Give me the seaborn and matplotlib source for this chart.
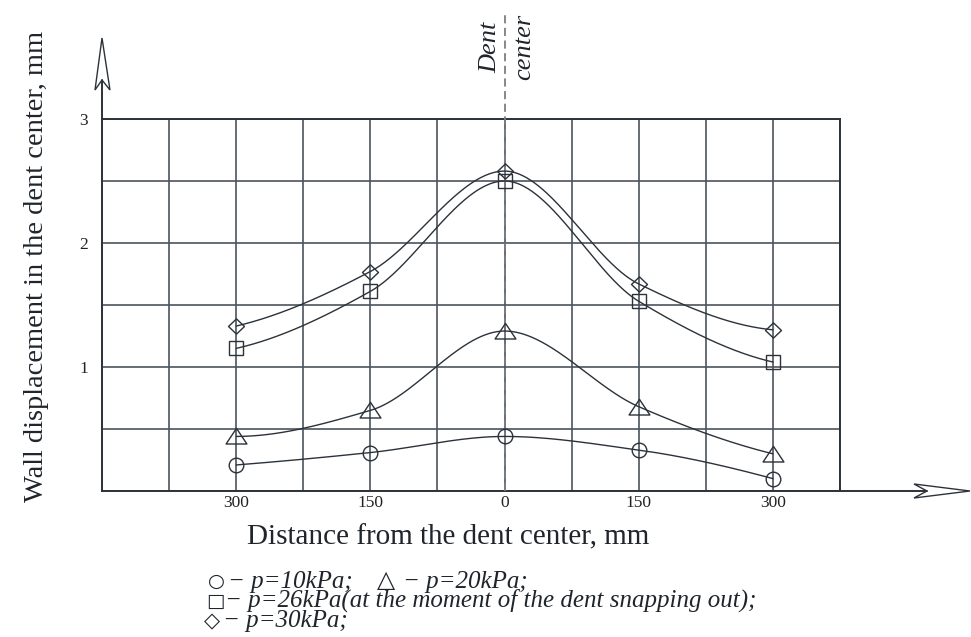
import numpy as np
import pandas as pd
import matplotlib
matplotlib.use("Agg")
import matplotlib.pyplot as plt
from matplotlib.path import Path
from matplotlib.patches import Polygon
from matplotlib.lines import Line2D
import seaborn as sns

# ---------------- data ----------------
distance = [-300, -150, 0, 150, 300]
tick_labels = ["300", "150", "0", "150", "300"]
p10 = [0.21, 0.31, 0.44, 0.33, 0.10]
p20 = [0.44, 0.65, 1.29, 0.68, 0.30]
p26 = [1.15, 1.61, 2.50, 1.53, 1.04]
p30 = [1.33, 1.77, 2.58, 1.67, 1.30]
series_names = ["p=10kPa", "p=20kPa", "p=26kPa", "p=30kPa"]
y_ticks = [1, 2, 3]

W, H = 971, 637
sns.set_theme(style="white")
plt.rcParams["font.family"] = ["Liberation Serif", "DejaVu Sans"]

DARK = "#2b323a"
GRID = "#4d545c"
TXT = "#1f252b"


def pchip(x, y, xs):
    x = np.asarray(x, float); y = np.asarray(y, float)
    h = np.diff(x); d = np.diff(y) / h
    n = len(x); m = np.zeros(n)
    for k in range(1, n - 1):
        if d[k - 1] * d[k] > 0:
            w1 = 2 * h[k] + h[k - 1]; w2 = h[k] + 2 * h[k - 1]
            m[k] = (w1 + w2) / (w1 / d[k - 1] + w2 / d[k])
    def end(h0, h1, d0, d1):
        v = ((2 * h0 + h1) * d0 - h0 * d1) / (h0 + h1)
        if np.sign(v) != np.sign(d0):
            v = 0.0
        elif np.sign(d0) != np.sign(d1) and abs(v) > abs(3 * d0):
            v = 3 * d0
        return v
    m[0] = end(h[0], h[1], d[0], d[1])
    m[-1] = end(h[-1], h[-2], d[-1], d[-2])
    idx = np.clip(np.searchsorted(x, xs) - 1, 0, n - 2)
    t = (xs - x[idx]) / h[idx]
    h00 = 2 * t**3 - 3 * t**2 + 1; h10 = t**3 - 2 * t**2 + t
    h01 = -2 * t**3 + 3 * t**2; h11 = t**3 - t**2
    return h00 * y[idx] + h10 * h[idx] * m[idx] + h01 * y[idx + 1] + h11 * h[idx] * m[idx + 1]


fig = plt.figure(figsize=(W / 100, H / 100), dpi=100)
fig.patch.set_facecolor("white")
ax_l, ax_r, ax_t, ax_b = 102, 840, 119, 491
ax = fig.add_axes([ax_l / W, 1 - ax_b / H, (ax_r - ax_l) / W, (ax_b - ax_t) / H])
ax.set_facecolor("white")

# smooth curves via seaborn
xs = np.linspace(distance[0], distance[-1], 400)
rows = []
for name, vals in zip(series_names, [p10, p20, p26, p30]):
    ys = pchip(distance, vals, xs)
    rows.append(pd.DataFrame({"x": xs, "y": ys, "s": name}))
curves = pd.concat(rows, ignore_index=True)
sns.lineplot(data=curves, x="x", y="y", hue="s", palette=[DARK] * 4,
             linewidth=1.0, legend=False, ax=ax, sort=False, zorder=4)

# markers
tri = Path([(-1.0, -0.72), (1.0, -0.72), (0.0, 0.78), (-1.0, -0.72)],
           [Path.MOVETO, Path.LINETO, Path.LINETO, Path.CLOSEPOLY])
dia = Path([(0, 1), (1.05, 0), (0, -1), (-1.05, 0), (0, 1)],
           [Path.MOVETO, Path.LINETO, Path.LINETO, Path.LINETO, Path.CLOSEPOLY])
marker_specs = [("o", 10.5), (tri, 15), ("s", 9.5), (dia, 11.5)]
for vals, (mk, ms) in zip([p10, p20, p26, p30], marker_specs):
    ax.plot(distance, vals, linestyle="none", marker=mk, markersize=ms,
            markerfacecolor="none", markeredgecolor=DARK, markeredgewidth=1.0,
            zorder=5, clip_on=False)

ax.set_xlim(-450, 375)
ax.set_ylim(0, 3)
grid_x = np.arange(-450, 376, 75)
grid_y = np.arange(0, 3.01, 0.5)
ax.set_xticks(grid_x)
ax.set_xticklabels([tick_labels[distance.index(v)] if v in distance else "" for v in grid_x])
ax.set_yticks(grid_y)
ax.set_yticklabels([str(int(v)) if v in y_ticks else "" for v in grid_y])
ax.tick_params(axis="both", length=0, labelsize=12.5, colors="#222222")
ax.tick_params(axis="x", pad=3)
ax.tick_params(axis="y", pad=10)
ax.grid(True, color=GRID, linewidth=1.2)
for s in ax.spines.values():
    s.set_color(DARK)
    s.set_linewidth(1.4)
ax.set_xlabel(""); ax.set_ylabel("")

# dent center dashed line
ax.axvline(0, ymin=0, ymax=(ax_b - 15) / (ax_b - ax_t), color="#7a7f85",
           linewidth=1.3, dashes=(4.5, 2.5), clip_on=False, zorder=3)


def fp(x, y):
    return (x / W, 1 - y / H)


# axis extensions and open arrowheads
fig.add_artist(Line2D([fp(102, 0)[0]] * 2, [fp(0, 119)[1], fp(0, 80)[1]],
                      color=DARK, linewidth=1.4))
fig.add_artist(Line2D([fp(840, 0)[0], fp(927, 0)[0]], [fp(0, 491)[1]] * 2,
                      color=DARK, linewidth=1.4))
ya = [fp(102, 38), fp(95, 90), fp(102, 80), fp(110, 90)]
xa = [fp(970, 491), fp(914, 484), fp(927, 491), fp(914, 498)]
for pts in (ya, xa):
    fig.add_artist(Polygon(pts, closed=True, transform=fig.transFigure,
                           facecolor="white", edgecolor=DARK, linewidth=1.0))

# labels
fig.text(*fp(448, 544), "Distance from the dent center, mm", ha="center",
         va="baseline", fontsize=21, color=TXT)
fig.text(*fp(43, 266), "Wall displacement in the dent center, mm", ha="center",
         va="baseline", rotation=90, rotation_mode="anchor", fontsize=20.5, color=TXT)
fig.text(*fp(496, 47), "Dent", ha="center", va="baseline", rotation=90,
         rotation_mode="anchor", fontsize=19, style="italic", color=TXT)
fig.text(*fp(530, 47), "center", ha="center", va="baseline", rotation=90,
         rotation_mode="anchor", fontsize=19, style="italic", color=TXT)

# legend as text
sym_kw = dict(family=["DejaVu Sans"], fontsize=14, color=TXT, va="baseline")
txt_kw = dict(fontsize=18, style="italic", color=TXT, va="baseline")
fig.text(*fp(208, 587), "○", **sym_kw)
fig.text(*fp(228, 588), "− p=10kPa;", **txt_kw)
fig.text(*fp(377, 587), "△", **dict(sym_kw, fontsize=17))
fig.text(*fp(403, 588), "− p=20kPa;", **txt_kw)
fig.text(*fp(206, 607), "□", **sym_kw)
fig.text(*fp(225, 607), "− p=26kPa(at the moment of the dent snapping out);", **txt_kw)
fig.text(*fp(204, 627), "◇", **dict(sym_kw, fontsize=15))
fig.text(*fp(223, 627), "− p=30kPa;", **txt_kw)

fig.savefig("out.png", dpi=100)
